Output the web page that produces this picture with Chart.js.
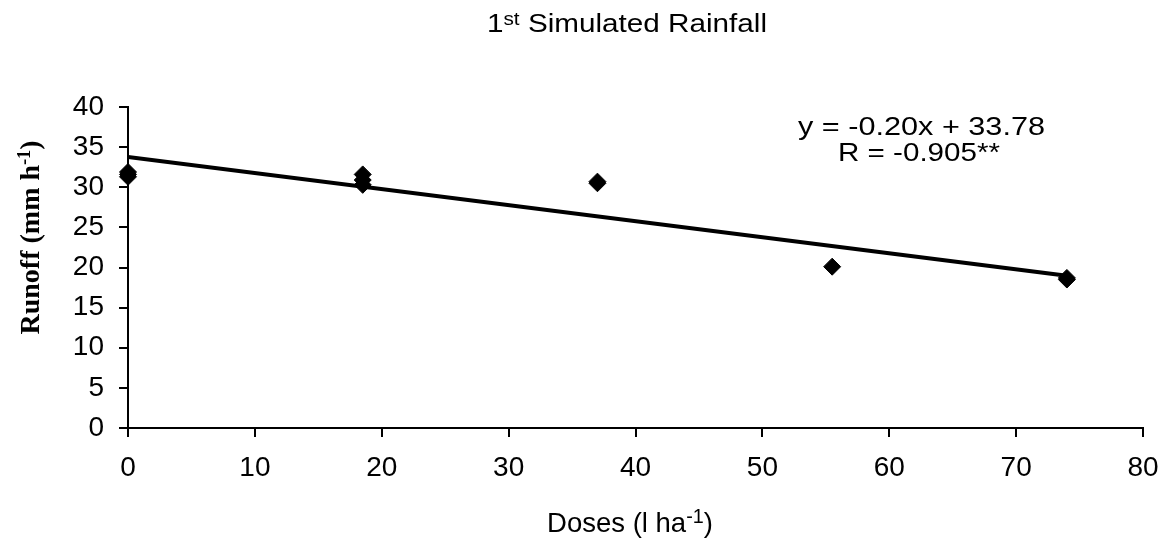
<!DOCTYPE html>
<html><head><meta charset="utf-8">
<script src="https://cdn.jsdelivr.net/npm/chart.js@4.4.1/dist/chart.umd.min.js"></script>
<style>html,body{margin:0;padding:0;background:#fff;}#c{display:block;}</style>
</head><body>
<canvas id="c" width="1164" height="540"></canvas>
<script>
// ---- data ----
const doses  = [0, 0, 0, 18.5, 18.5, 18.5, 37, 37, 55.5, 74, 74];
const runoff = [31.9, 31.6, 31.3, 31.6, 30.9, 30.3, 30.7, 30.5, 20.1, 18.7, 18.5];
const trendX = [0, 74];
const trendY = [33.78, 18.98];
const xMin = 0, xMax = 80, xStep = 10;
const yMin = 0, yMax = 40, yStep = 5;
const eqLine1 = "y = -0.20x + 33.78";
const eqLine2 = "R = -0.905**";

const SANS = "'Liberation Sans', Arial, sans-serif";
const SERIF = "'Liberation Serif', 'Times New Roman', serif";

function drawRich(ctx, parts, cx, baseline, o) {
  const size = o.size, supSize = size * (o.supRatio || 0.65), raise = o.raise || size * 0.33;
  const w = o.weight || 'normal';
  const fontFor = sup => w + ' ' + (sup ? supSize : size) + 'px ' + o.family;
  let total = 0;
  const widths = parts.map(p => { ctx.font = fontFor(p[1]); const m = ctx.measureText(p[0]).width; total += m; return m; });
  const sx = o.targetWidth ? o.targetWidth / total : (o.stretch || 1);
  ctx.save();
  ctx.translate(cx, baseline);
  if (o.rotate) ctx.rotate(o.rotate);
  ctx.scale(sx, 1);
  ctx.fillStyle = '#000';
  ctx.textBaseline = 'alphabetic';
  ctx.textAlign = 'left';
  let x = -total / 2;
  parts.forEach((p, i) => {
    ctx.font = fontFor(p[1]);
    ctx.fillText(p[0], x, p[1] ? -raise : 0);
    x += widths[i];
  });
  ctx.restore();
}

const textPlugin = {
  id: 'texts',
  afterDraw(chart) {
    const ctx = chart.ctx;
    drawRich(ctx, [['1', false], ['st', true], [' Simulated Rainfall', false]], 627, 32,
      {size: 26.5, family: SANS, supRatio: 0.7, raise: 7.5, targetWidth: 280});
    drawRich(ctx, [['Doses (l ha', false], ['-1', true], [')', false]], 630, 532,
      {size: 27.5, family: SANS, supRatio: 0.72, raise: 9.5});
    drawRich(ctx, [['Runoff (mm h', false], ['-1', true], [')', false]], 39, 237.5,
      {size: 28, family: SERIF, weight: 'bold', supRatio: 0.65, raise: 9, rotate: -Math.PI / 2});
    drawRich(ctx, [[eqLine1, false]], 921.5, 135, {size: 26.5, family: SANS, targetWidth: 247});
    drawRich(ctx, [[eqLine2, false]], 919, 161, {size: 26.5, family: SANS, targetWidth: 162});
  }
};

const axisCommon = {
  grid: {display: true, drawOnChartArea: false, drawTicks: true, tickLength: 9, color: '#000', lineWidth: 2},
  border: {display: true, color: '#000', width: 2},
  title: {display: false}
};

new Chart(document.getElementById('c'), {
  type: 'scatter',
  data: {
    datasets: [
      {
        label: 'Runoff',
        data: doses.map((d, i) => ({x: d, y: runoff[i]})),
        pointStyle: 'rectRot',
        pointRadius: 8.5,
        pointHoverRadius: 8.5,
        backgroundColor: '#000',
        borderColor: '#000',
        borderWidth: 1,
        clip: false,
        order: 0
      },
      {
        type: 'line',
        label: 'Trend',
        data: trendX.map((d, i) => ({x: d, y: trendY[i]})),
        borderColor: '#000',
        borderWidth: 4,
        pointRadius: 0,
        fill: false,
        showLine: true,
        order: 1
      }
    ]
  },
  options: {
    responsive: false,
    animation: false,
    devicePixelRatio: 1,
    layout: {padding: {left: 0, top: 107, right: 21, bottom: 0}},
    plugins: {legend: {display: false}, title: {display: false}, tooltip: {enabled: false}},
    scales: {
      x: Object.assign({}, axisCommon, {
        type: 'linear', min: xMin, max: xMax,
        ticks: {stepSize: xStep, color: '#000', padding: 14, font: {family: SANS, size: 28}, maxRotation: 0},
        afterFit(s) { s.height = 112; s.paddingLeft = 0; s.paddingRight = 0; }
      }),
      y: Object.assign({}, axisCommon, {
        type: 'linear', min: yMin, max: yMax,
        ticks: {stepSize: yStep, color: '#000', padding: 15, font: {family: SANS, size: 28}},
        afterFit(s) { s.width = 128; s.paddingTop = 0; s.paddingBottom = 0; }
      })
    }
  },
  plugins: [textPlugin]
});
</script>
</body></html>
